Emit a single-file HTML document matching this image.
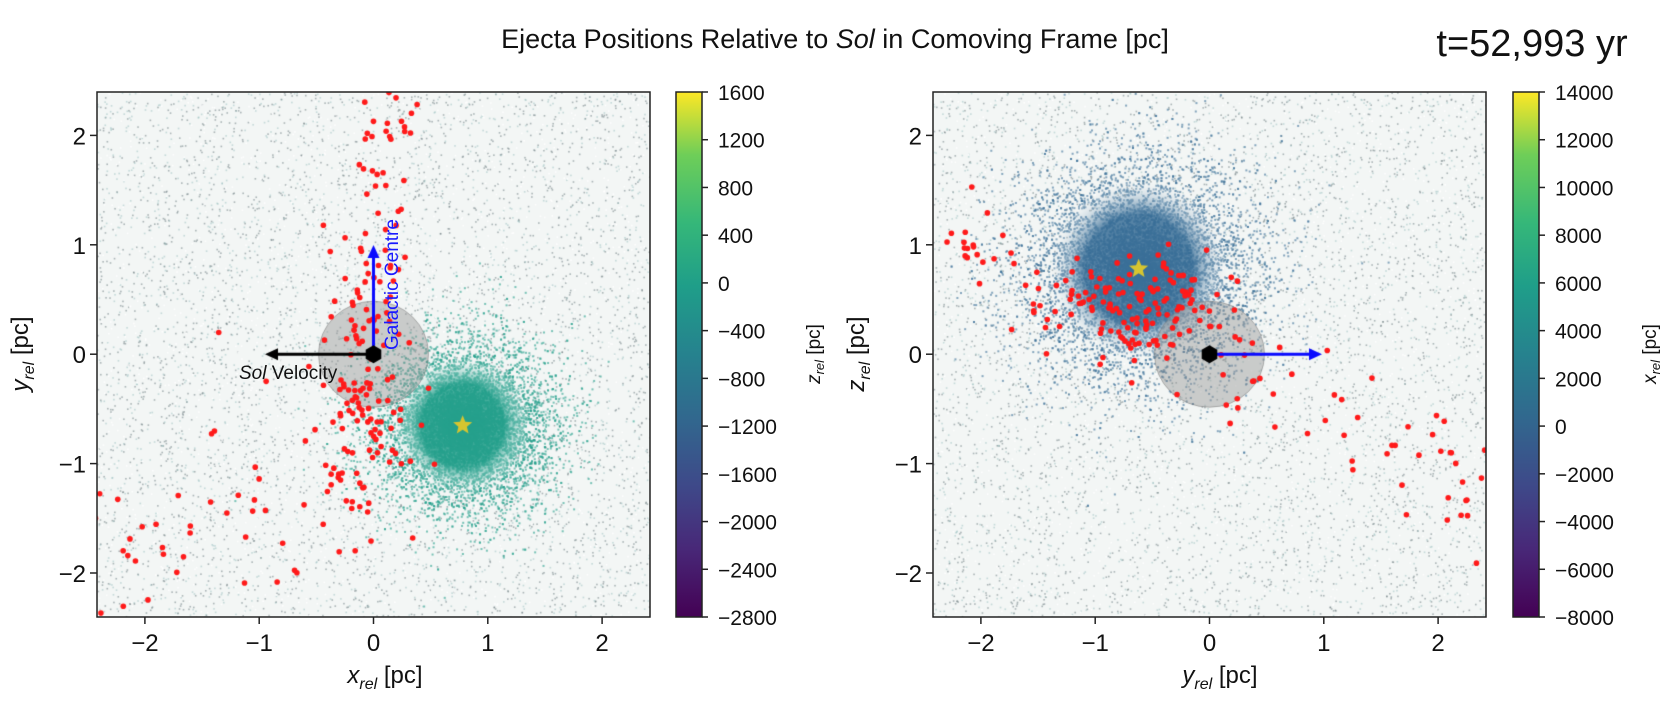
<!DOCTYPE html>
<html><head><meta charset="utf-8"><style>
html,body{margin:0;padding:0;background:#fff;}
#wrap{position:relative;width:1668px;height:704px;overflow:hidden;font-family:"Liberation Sans","DejaVu Sans",sans-serif;}
canvas,svg{position:absolute;left:0;top:0;}
</style></head><body><div id="wrap">
<canvas id="c" width="1668" height="704"></canvas>
<svg width="1668" height="704" xmlns="http://www.w3.org/2000/svg" font-family="Liberation Sans, DejaVu Sans, sans-serif">
<defs>
<linearGradient id="vir" x1="0" y1="1" x2="0" y2="0">
<stop offset="0" stop-color="#440154"/><stop offset="0.13" stop-color="#482878"/><stop offset="0.25" stop-color="#3e4989"/>
<stop offset="0.38" stop-color="#31688e"/><stop offset="0.5" stop-color="#26828e"/><stop offset="0.63" stop-color="#1f9e89"/>
<stop offset="0.75" stop-color="#35b779"/><stop offset="0.88" stop-color="#6ece58"/><stop offset="1" stop-color="#fde725"/>
</linearGradient>
</defs>
<text x="835" y="48" font-size="27" text-anchor="middle" fill="#111">Ejecta Positions Relative to <tspan font-style="italic">Sol</tspan> in Comoving Frame [pc]</text>
<text x="1532" y="56" font-size="38" text-anchor="middle" fill="#111">t=52,993 yr</text>
<g id="ax" fill="none" stroke="#222" stroke-width="1.5">
<rect x="97" y="92" width="553" height="525"/>
<rect x="933" y="92" width="553" height="525"/>
<rect x="676" y="92" width="26" height="525" fill="url(#vir)"/>
<rect x="1513" y="92" width="26" height="525" fill="url(#vir)"/>
</g>
<g id="ticks" stroke="#222" stroke-width="1.5"></g>
<g id="labels" font-size="24" fill="#111"></g>
<text x="385" y="683" font-size="24" text-anchor="middle" fill="#111"><tspan font-style="italic">x</tspan><tspan font-style="italic" font-size="16" dy="6">rel</tspan><tspan dy="-6"> [pc]</tspan></text>
<text x="1220" y="683" font-size="24" text-anchor="middle" fill="#111"><tspan font-style="italic">y</tspan><tspan font-style="italic" font-size="16" dy="6">rel</tspan><tspan dy="-6"> [pc]</tspan></text>
<text transform="translate(28,354) rotate(-90)" font-size="24" text-anchor="middle" fill="#111"><tspan font-style="italic">y</tspan><tspan font-style="italic" font-size="16" dy="6">rel</tspan><tspan dy="-6"> [pc]</tspan></text>
<text transform="translate(864,354) rotate(-90)" font-size="24" text-anchor="middle" fill="#111"><tspan font-style="italic">z</tspan><tspan font-style="italic" font-size="16" dy="6">rel</tspan><tspan dy="-6"> [pc]</tspan></text>
<text transform="translate(820,354) rotate(-90)" font-size="19" text-anchor="middle" fill="#111"><tspan font-style="italic">z</tspan><tspan font-style="italic" font-size="13" dy="4">rel</tspan><tspan dy="-4"> [pc]</tspan></text>
<text transform="translate(1656,354) rotate(-90)" font-size="19" text-anchor="middle" fill="#111"><tspan font-style="italic">x</tspan><tspan font-style="italic" font-size="13" dy="4">rel</tspan><tspan dy="-4"> [pc]</tspan></text>
<text transform="translate(398,350) rotate(-90)" font-size="19" fill="#1a1aff">Galactic Centre</text>
<text x="239" y="379" font-size="19" fill="#111"><tspan font-style="italic">Sol</tspan> Velocity</text>
</svg>
</div>
<script>
(function(){
var NS="http://www.w3.org/2000/svg";
var tg=document.getElementById('ticks'),lg=document.getElementById('labels');
function line(x1,y1,x2,y2){var l=document.createElementNS(NS,'line');l.setAttribute('x1',x1);l.setAttribute('y1',y1);l.setAttribute('x2',x2);l.setAttribute('y2',y2);tg.appendChild(l);}
function txt(x,y,s,anc,fs){var t=document.createElementNS(NS,'text');t.setAttribute('x',x);t.setAttribute('y',y);t.setAttribute('text-anchor',anc);if(fs)t.setAttribute('font-size',fs);t.textContent=s;lg.appendChild(t);}
function lab(v){return v<0?'\u2212'+(-v):''+v;}
[373.5,1209.5].forEach(function(x0){
 for(var v=-2;v<=2;v++){var x=x0+v*114.3;line(x,617,x,624);txt(x,651,lab(v),'middle');}
});
[97,933].forEach(function(xl){
 for(var v=-2;v<=2;v++){var y=354.2-v*109.4;line(xl,y,xl-7,y);txt(xl-11,y+9,lab(v),'end');}
});
function cb(xr,vmax,vmin,step){
 var n=(vmax-vmin)/step;
 for(var i=0;i<=n;i++){var v=vmax-i*step;var y=92+i*525/n;line(xr,y,xr+6,y);txt(xr+16,y+8,lab(v),'start',21);}
}
cb(702,1600,-2800,400);cb(1539,14000,-8000,2000);

var c=document.getElementById('c').getContext('2d');
var seed=12345;function R(){seed=(seed*1103515245+12345)%2147483648;return seed/2147483648;}
function N(){var u=R()||1e-9,v=R();return Math.sqrt(-2*Math.log(u))*Math.cos(6.2832*v);}
function panel(X0,Y0,L,blob,bc,reds){
 c.save();c.beginPath();c.rect(L,92,553,525);c.clip();
 c.fillStyle='#f3f6f5';c.fillRect(L,92,553,525);
 var px=function(x){return X0+x*114.3},py=function(y){return Y0-y*109.4};
 for(var i=0;i<7000;i++){var x=L+R()*553,y=92+R()*525;var g=R();
  c.fillStyle=g<0.5?'rgba(110,125,130,0.55)':(g<0.8?'rgba(150,190,190,0.5)':'rgba(255,255,255,0.9)');
  c.fillRect(x,y,1.6,1.6);}
 for(var i=0;i<12000;i++){var r=Math.abs(N())*blob.s*0.8,a=R()*6.2832;
  var x=px(blob.x+r*Math.cos(a)),y=py(blob.y+r*Math.sin(a));
  c.fillStyle=bc;c.globalAlpha=0.6;c.fillRect(x,y,2,2);}
 c.globalAlpha=1;
 var gr=c.createRadialGradient(px(blob.x),py(blob.y),0,px(blob.x),py(blob.y),blob.s*114.3*1.1);
 gr.addColorStop(0,bc);gr.addColorStop(0.6,bc);gr.addColorStop(1,'rgba(255,255,255,0)');
 c.globalAlpha=0.85;c.fillStyle=gr;c.beginPath();c.arc(px(blob.x),py(blob.y),blob.s*114.3*1.1,0,6.2832);c.fill();c.globalAlpha=1;
 c.fillStyle='rgba(150,150,150,0.45)';c.beginPath();c.ellipse(X0,Y0,55,53,0,0,6.2832);c.fill();
 c.strokeStyle='rgba(120,120,120,0.5)';c.lineWidth=1;c.stroke();
 star(px(blob.x),py(blob.y),10,'#d6c530');
 c.fillStyle='#ff1a1a';
 reds.forEach(function(p){c.beginPath();c.arc(px(p[0]),py(p[1]),2.8,0,6.2832);c.fill();});
 c.restore();
}
function star(x,y,r,col){c.fillStyle=col;c.beginPath();for(var i=0;i<10;i++){var rr=i%2?r*0.45:r;var a=-Math.PI/2+i*Math.PI/5;c.lineTo(x+rr*Math.cos(a),y+rr*Math.sin(a));}c.closePath();c.fill();}
function arrow(x1,y1,x2,y2,col){c.strokeStyle=col;c.fillStyle=col;c.lineWidth=3;c.beginPath();c.moveTo(x1,y1);
 var dx=x2-x1,dy=y2-y1,l=Math.hypot(dx,dy),ux=dx/l,uy=dy/l;c.lineTo(x2-ux*10,y2-uy*10);c.stroke();
 c.beginPath();c.moveTo(x2,y2);c.lineTo(x2-ux*13-uy*6,y2-uy*13+ux*6);c.lineTo(x2-ux*13+uy*6,y2-uy*13-ux*6);c.closePath();c.fill();}
function hex(x,y,r){c.fillStyle='#000';c.beginPath();for(var i=0;i<6;i++){var a=i*Math.PI/3+Math.PI/6;c.lineTo(x+r*Math.cos(a),y+r*Math.sin(a));}c.closePath();c.fill();}
var rl=[];
for(var i=0;i<45;i++){var y=0.3+R()*2.1;rl.push([0.05+N()*0.15+(y-0.3)*0.07,y]);}
for(var i=0;i<120;i++){rl.push([-0.1+N()*0.22,-0.35+N()*0.6]);}
for(var i=0;i<55;i++){var t=R();rl.push([-0.3-t*2.1+N()*0.3,-0.9-t*1.3+N()*0.45]);}
panel(373.5,354.2,97,{x:0.78,y:-0.65,s:0.55},'#25a08c',rl);
arrow(373.5,354.2,373.5,245,'#0a0aff');arrow(373.5,354.2,265,354.2,'#000');hex(373.5,354.2,9);
var rr=[];
for(var i=0;i<110;i++){rr.push([-0.6+N()*0.4,0.4+N()*0.25]);}
for(var i=0;i<110;i++){var t=R();var x=-2.3+t*4.7;rr.push([x+N()*0.1,1.0-t*2.2+N()*0.3]);}
panel(1209.5,354.2,933,{x:-0.62,y:0.78,s:0.72},'#3a6f98',rr);
arrow(1209.5,354.2,1322,354.2,'#0a0aff');hex(1209.5,354.2,9);
})();
</script>
</body></html>
